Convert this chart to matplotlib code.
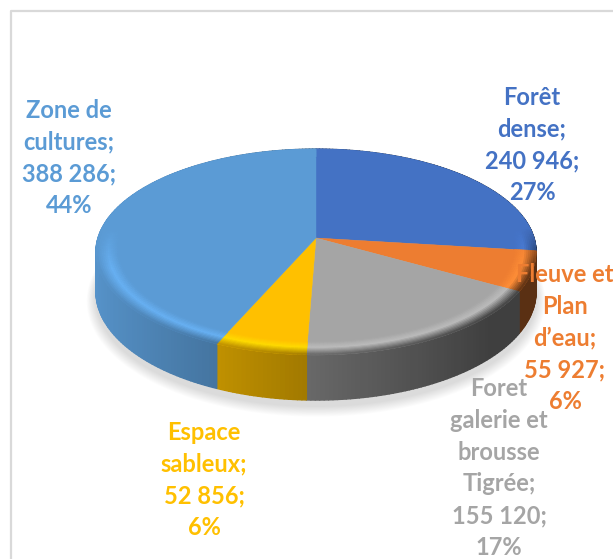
import numpy as np
import matplotlib
matplotlib.use("Agg")
import matplotlib.pyplot as plt
from matplotlib.collections import PolyCollection
from matplotlib.colors import to_rgb

names = ["Forêt\ndense", "Fleuve et\nPlan\nd’eau", "Foret\ngalerie et\nbrousse\nTigrée", "Espace\nsableux", "Zone de\ncultures"]
values = [240946, 55927, 155120, 52856, 388286]
percents = [27, 6, 17, 6, 44]
colors = ["#4472C4", "#ED7D31", "#A5A5A5", "#FFC000", "#5B9BD5"]
label_x = [532, 565, 499, 204, 69]
label_y = [145, 338, 468, 480, 158]

plt.rcParams['font.family'] = ['Lato', 'DejaVu Sans']

# pie geometry in pixels, perspective projection of a tilted disc
cx, cy = 316, 238
a, b, c = 218, 101, 0.136
depth = 39


def project(r, th):
    u = r * np.sin(th)
    v = -r * np.cos(th)
    w = 1 - c * v
    return cx + a * u / w, cy + b * v / w


def side_depth(th):
    return depth / (1 + c * np.cos(th))


def side_light(th):
    return np.clip(0.62 - 0.33 * np.sin(th), 0.38, 1)


fig = plt.figure(figsize=(6.13, 5.59), dpi=100)
ax = fig.add_axes([0, 0, 1, 1])
ax.set_xlim(0, 613)
ax.set_ylim(559, 0)
ax.axis("off")

# chart frame
ax.plot([11, 11, 613], [559, 10.5, 10.5], color="#D9D9D9", lw=1.6, zorder=0)

# soft shadow under the body
t = np.linspace(0, 2 * np.pi, 240)
xs, ys = project(1, t)
ys = ys + side_depth(t)
for k in range(12, 0, -1):
    sx = cx + (xs - cx) * (1 + k * 0.0035)
    sy = cy + 6 + (ys - cy) * (1 + k * 0.0055)
    ax.fill(sx, sy, color="k", alpha=0.012, lw=0, zorder=1)

fracs = np.array(values) / np.sum(values)
edges = np.concatenate([[0], np.cumsum(fracs)]) * 2 * np.pi

# side wall, each slice drawn in order so the strips overlap without seams
for i, col in enumerate(colors):
    base = np.array(to_rgb(col))
    n = max(int(np.degrees(edges[i + 1] - edges[i])), 2)
    th = np.linspace(edges[i], edges[i + 1], n + 1)
    x, y = project(1, th)
    d = side_depth(th)
    quads, cols = [], []
    for j in range(n):
        jn = j + 1
        # strip runs on past its neighbour, the next strip paints over that part
        x1, y1 = x[jn], y[jn]
        quads.append([(x[j], y[j]), (x1, y1), (x1, y1 + d[jn]), (x[j], y[j] + d[j])])
        cols.append(base * side_light(0.5 * (th[j] + th[jn])))
    ax.add_collection(PolyCollection(quads, facecolors=cols, edgecolors=cols, linewidths=1.0, zorder=2))

# flat top
for i, col in enumerate(colors):
    th = np.linspace(edges[i], edges[i + 1], 120)
    x, y = project(1, th)
    ax.fill(np.r_[cx, x], np.r_[cy, y], color=col, lw=0.3, zorder=3)

# bevel round the front edge
rr = np.linspace(0.9, 1.0, 13)
rim_quads, rim_cols = [], []
for i, col in enumerate(colors):
    base = np.array(to_rgb(col))
    n = max(int(np.degrees(edges[i + 1] - edges[i])), 2)
    th = np.linspace(edges[i], edges[i + 1], n + 1)
    for j in range(n):
        tm = 0.5 * (th[j] + th[j + 1])
        s = np.clip((-np.cos(tm) + 0.1) / 0.4, 0, 1)
        dark = base * side_light(tm)
        light = np.clip(base * 1.14, 0, 1)
        for k in range(len(rr) - 1):
            q = (0.5 * (rr[k] + rr[k + 1]) - 0.9) / 0.1
            if q < 0.45:
                cc = base + (light - base) * q / 0.45
            else:
                cc = light + (dark - light) * (q - 0.45) / 0.55
            cc = base + (cc - base) * s
            x0, y0 = project(rr[k], th[j])
            x1, y1 = project(rr[k], th[j + 1])
            x2, y2 = project(rr[k + 1], th[j + 1])
            x3, y3 = project(rr[k + 1], th[j])
            rim_quads.append([(x0, y0), (x1, y1), (x2, y2), (x3, y3)])
            rim_cols.append(cc)
ax.add_collection(PolyCollection(rim_quads, facecolors=rim_cols, edgecolors=rim_cols, linewidths=0.5, zorder=4))

# data labels
for i, name in enumerate(names):
    val = f"{values[i]:,}".replace(",", " ")
    txt = f"{name};\n{val};\n{percents[i]}%"
    ax.text(label_x[i], label_y[i], txt, color=colors[i], ha="center", va="center",
            fontsize=17, fontweight="bold", linespacing=1.47, zorder=5)

fig.savefig("out.png", dpi=100)
